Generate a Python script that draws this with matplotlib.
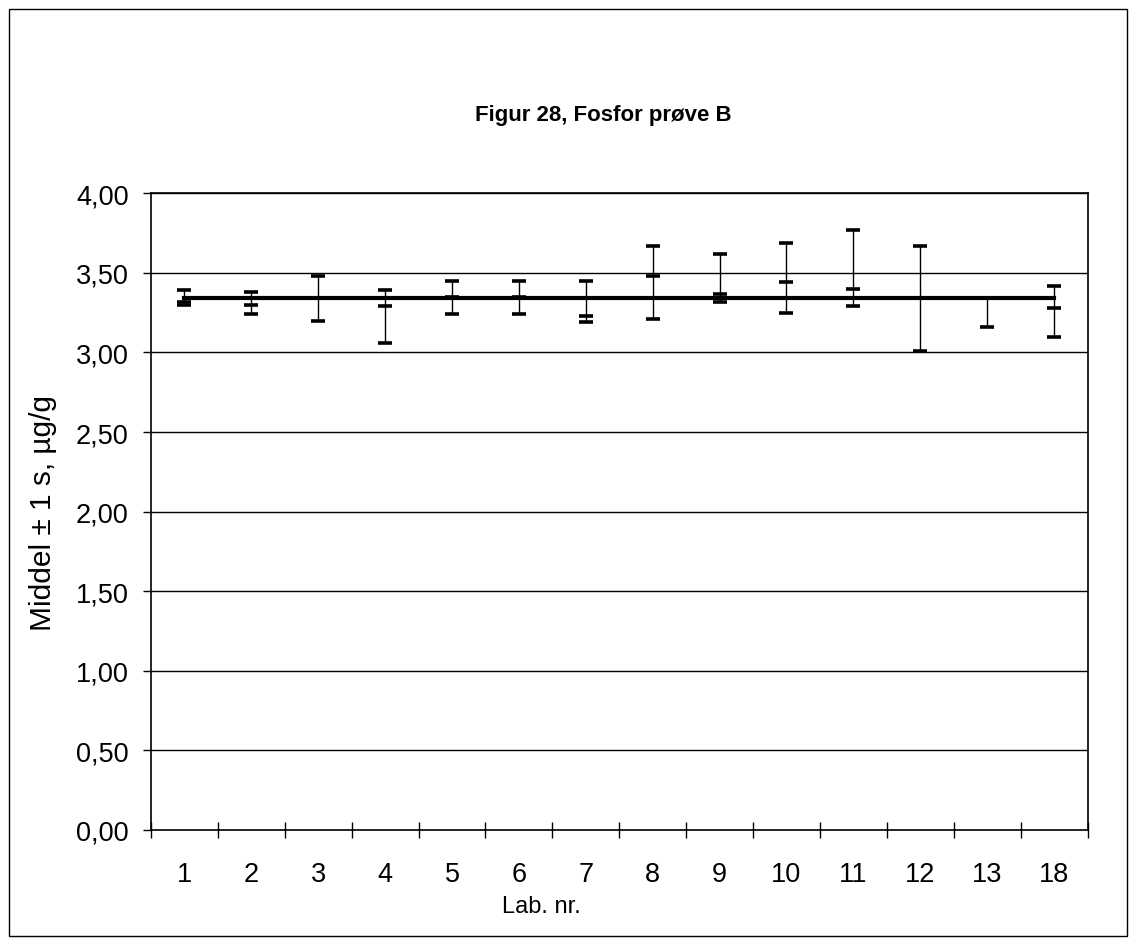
import numpy as np
import matplotlib
matplotlib.use('Agg')
import matplotlib.pyplot as plt
from matplotlib.patches import Rectangle
from matplotlib.ticker import FuncFormatter, FixedLocator

plt.rcParams['font.family'] = ['Liberation Sans', 'DejaVu Sans']

# Fosfor, prøve B: per lab high / middel / low, plus overall middel
labs = ['1', '2', '3', '4', '5', '6', '7', '8', '9', '10', '11', '12', '13', '18']
high = [3.39, 3.38, 3.48, 3.39, 3.45, 3.45, 3.45, 3.67, 3.62, 3.69, 3.77, 3.67, 3.34, 3.42]
mid = [3.32, 3.30, 3.34, 3.29, 3.35, 3.35, 3.23, 3.48, 3.37, 3.44, 3.40, 3.34, 3.34, 3.28]
low = [3.30, 3.24, 3.20, 3.06, 3.24, 3.24, 3.19, 3.21, 3.32, 3.25, 3.29, 3.01, 3.16, 3.10]
total_mean = 3.34

yticks = [0.0, 0.5, 1.0, 1.5, 2.0, 2.5, 3.0, 3.5, 4.0]

W, H = 1136, 945
fig = plt.figure(figsize=(W / 100, H / 100), dpi=100)

# outer chart frame
fig.patches.append(Rectangle((9 / W, 1 - 937 / H), (1127 - 9) / W, (937 - 10) / H,
                             transform=fig.transFigure, fill=False,
                             edgecolor='black', linewidth=1.0))

ax = fig.add_axes([151 / W, 1 - 831 / H, (1087.5 - 151) / W, (831 - 194.3) / H])

x = np.arange(1, len(labs) + 1)

for yv in yticks[1:]:
    ax.axhline(yv, color='black', linewidth=1.0, zorder=1)

# high-low lines
ax.vlines(x, low, high, color='black', linewidth=1.0, zorder=2)
# overall mean
ax.plot(x, [total_mean] * len(x), color='black', linewidth=3.0, zorder=3)
for series in (high, mid, low):
    ax.plot(x, series, linestyle='none', marker='_', markersize=9.5,
            markeredgewidth=2.6, color='black', zorder=4)

ax.set_xlim(0.5, len(labs) + 0.5)
ax.set_ylim(0, 4.0)

ax.set_yticks(yticks)
ax.yaxis.set_major_formatter(FuncFormatter(lambda v, p: f'{v:.2f}'.replace('.', ',')))
ax.tick_params(axis='y', direction='out', length=6, width=1.0, pad=10, labelsize=19.5)

ax.set_xticks(x)
ax.set_xticklabels(labs)
ax.xaxis.set_minor_locator(FixedLocator(np.arange(0.5, len(labs) + 1, 1.0)))
ax.tick_params(axis='x', which='major', length=0, pad=22, labelsize=19.5)
ax.tick_params(axis='x', which='minor', direction='inout', length=11, width=1.0)

for s in ax.spines.values():
    s.set_linewidth(1.2)

ax.set_ylabel('Middel ± 1 s, µg/g', fontsize=21.5, va='center')
ax.yaxis.set_label_coords((43 - 151) / 936.5, 0.5)

fig.text(541 / W, 1 - 907 / H, 'Lab. nr.', fontsize=17, ha='center', va='center')
fig.text(603 / W, 1 - 116 / H, 'Figur 28, Fosfor prøve B', fontsize=16,
         fontweight='bold', ha='center', va='center')

fig.savefig('out.png', dpi=100)
